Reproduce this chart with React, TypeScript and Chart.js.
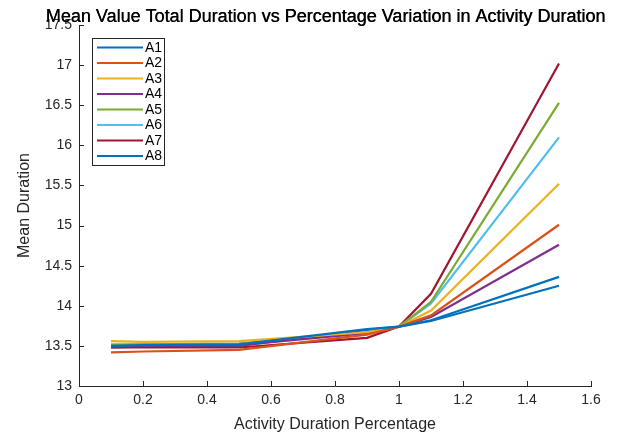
import React, { useEffect, useRef } from "react";
import { Chart, registerables } from "chart.js";

Chart.register(...registerables);

const xValues = [0.1, 0.2, 0.5, 0.9, 1.0, 1.1, 1.5];
const seriesNames = ["A1", "A2", "A3", "A4", "A5", "A6", "A7", "A8"];
const A1 = [13.5, 13.51, 13.52, 13.71, 13.74, 13.82, 14.36];
const A2 = [13.42, 13.43, 13.45, 13.64, 13.74, 13.88, 15.01];
const A3 = [13.56, 13.55, 13.56, 13.67, 13.74, 13.94, 15.52];
const A4 = [13.49, 13.5, 13.51, 13.66, 13.74, 13.86, 14.76];
const A5 = [13.51, 13.52, 13.53, 13.67, 13.74, 14.05, 16.53];
const A6 = [13.52, 13.52, 13.53, 13.66, 13.74, 14.03, 16.1];
const A7 = [13.48, 13.48, 13.48, 13.6, 13.74, 14.15, 17.02];
const A8 = [13.48, 13.49, 13.5, 13.7, 13.74, 13.81, 14.25];
const seriesValues = [A1, A2, A3, A4, A5, A6, A7, A8];
const colors = ["#0072BD", "#D95319", "#EDB120", "#7E2F8E", "#77AC30", "#4DBEEE", "#A2142F", "#0072BD"];

const titleText = "Mean Value Total Duration vs Percentage Variation in Activity Duration";
const xTitle = "Activity Duration Percentage";
const yTitle = "Mean Duration";

const FONT = "'Liberation Sans', Arial, sans-serif";
const AXIS_COLOR = "#262626";

const fmt = (v: number) => String(parseFloat(Number(v).toFixed(2)));

export default function App() {
  const ref = useRef<HTMLCanvasElement | null>(null);
  useEffect(() => {
    document.body.style.margin = "0";
    const canvas = ref.current;
    if (!canvas) return;

    const decor = {
      id: "decor",
      afterDraw(chart: any) {
        const ctx = chart.ctx;
        const xs = chart.scales.x;
        const ys = chart.scales.y;
        const area = chart.chartArea;
        ctx.save();
        // inward ticks
        ctx.strokeStyle = AXIS_COLOR;
        ctx.lineWidth = 1;
        ctx.beginPath();
        xs.ticks.forEach((t: any) => {
          const px = Math.round(xs.getPixelForValue(t.value)) + 0.5;
          ctx.moveTo(px, area.bottom);
          ctx.lineTo(px, area.bottom - 5);
        });
        ys.ticks.forEach((t: any) => {
          const py = Math.round(ys.getPixelForValue(t.value)) + 0.5;
          ctx.moveTo(area.left, py);
          ctx.lineTo(area.left + 5, py);
        });
        ctx.stroke();

        // legend
        const bx = 92.5, by = 38.5, bw = 72, bh = 127;
        ctx.fillStyle = "#ffffff";
        ctx.fillRect(bx, by, bw, bh);
        ctx.strokeStyle = "#262626";
        ctx.lineWidth = 1;
        ctx.strokeRect(bx, by, bw, bh);
        ctx.font = "14px " + FONT;
        ctx.textBaseline = "middle";
        ctx.textAlign = "left";
        chart.data.datasets.forEach((ds: any, i: number) => {
          const y = 47.5 + i * 15.5;
          ctx.strokeStyle = ds.borderColor;
          ctx.lineWidth = 2;
          ctx.beginPath();
          ctx.moveTo(97, y);
          ctx.lineTo(143, y);
          ctx.stroke();
          ctx.fillStyle = "#000000";
          ctx.fillText(ds.label, 145, y + 0.5);
        });

        // title
        ctx.font = "18px " + FONT;
        ctx.fillStyle = "#000000";
        ctx.textAlign = "center";
        ctx.textBaseline = "middle";
        ctx.fillText(titleText, 325.5, 17);
        ctx.fillText(titleText, 325.9, 17);
        ctx.restore();
      },
    };

    const chart = new Chart(canvas, {
      type: "line",
      data: {
        datasets: seriesValues.map((vals, i) => ({
          label: seriesNames[i],
          data: vals.map((v, j) => ({ x: xValues[j], y: v })),
          borderColor: colors[i],
          backgroundColor: colors[i],
          borderWidth: 2.2,
          pointRadius: 0,
          tension: 0,
          fill: false,
        })),
      },
      options: {
        animation: false,
        responsive: false,
        maintainAspectRatio: false,
        layout: { padding: { top: 25, right: 28, left: 0, bottom: 0 } },
        plugins: {
          legend: { display: false },
          title: { display: false },
          tooltip: { enabled: false },
        },
        scales: {
          x: {
            type: "linear",
            min: 0,
            max: 1.6,
            ticks: {
              stepSize: 0.2,
              font: { family: FONT, size: 14 },
              color: AXIS_COLOR,
              padding: 6,
              maxRotation: 0,
              autoSkip: false,
              callback: (v: any) => fmt(v),
            },
            grid: { display: true, drawOnChartArea: false, drawTicks: false },
            border: { display: true, color: AXIS_COLOR, width: 1 },
            title: {
              display: true,
              text: xTitle,
              font: { family: FONT, size: 16 },
              color: AXIS_COLOR,
              padding: { top: 0, bottom: 2 },
            },
            afterFit(scale: any) {
              scale.height = 50;
            },
          },
          y: {
            type: "linear",
            min: 13,
            max: 17.5,
            ticks: {
              stepSize: 0.5,
              font: { family: FONT, size: 14 },
              color: AXIS_COLOR,
              padding: 7,
              autoSkip: false,
              callback: (v: any) => fmt(v),
            },
            grid: { display: true, drawOnChartArea: false, drawTicks: false },
            border: { display: true, color: AXIS_COLOR, width: 1 },
            title: {
              display: true,
              text: yTitle,
              font: { family: FONT, size: 16 },
              color: AXIS_COLOR,
              padding: { top: 15, bottom: 0 },
            },
            afterFit(scale: any) {
              scale.width = 79;
            },
          },
        },
      },
      plugins: [decor],
    } as any);
    return () => chart.destroy();
  }, []);
  return <canvas ref={ref} width={619} height={436} style={{ display: "block" }} />;
}
